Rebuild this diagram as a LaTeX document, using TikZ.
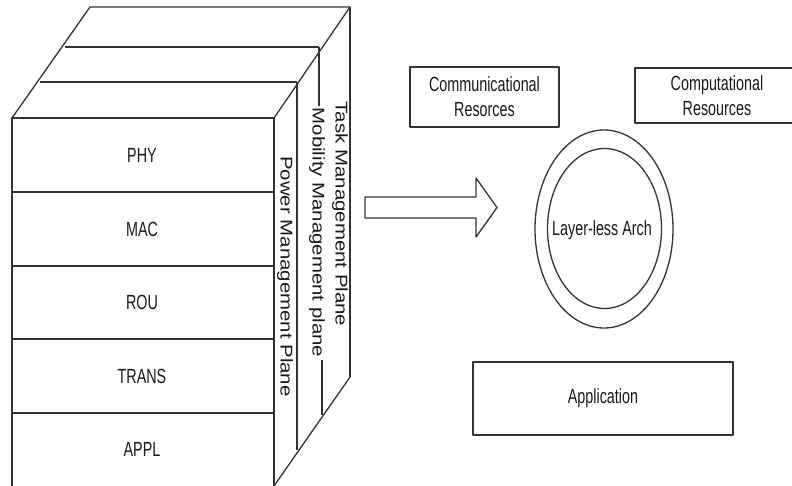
\documentclass[tikz,border=0pt]{standalone}
\usepackage{fontspec}
\usetikzlibrary{shapes.geometric}
\setmainfont{Liberation Sans}
\newfontfamily\narrowf[FakeStretch=0.7]{Liberation Sans}
\newfontfamily\widef[FakeStretch=1.2]{Liberation Sans}
\begin{document}
\begin{tikzpicture}[x=1pt,y=-1pt,
  ln/.style={draw=black!80,line width=1.3pt,line join=round},
  lbl/.style={font=\narrowf\fontsize{20.5}{25}\selectfont,text=black!90,align=center,inner sep=0pt},
  vlbl/.style={font=\widef\fontsize{17}{20}\selectfont,text=black!90,rotate=-90,inner sep=0pt},
  box/.style={ln,rectangle,lbl}]
\useasboundingbox (0,0) rectangle (792,486);
% --- stack (3D block) ---
\coordinate (f1) at (12,118);
\coordinate (f2) at (274,118);
\coordinate (f3) at (274,486);
\coordinate (f4) at (12,486);
\coordinate (a1) at (40,82);
\coordinate (a2) at (297,82);
\coordinate (b1) at (65,47);
\coordinate (b2) at (319,47);
\coordinate (c1) at (90,7);
\coordinate (c2) at (350,7);
\coordinate (pb) at (297,450);
\coordinate (mb) at (322,415);
\coordinate (tb) at (350,377);
\draw[ln] (f4) -- (f1) -- (f2) -- (f3);
\draw[ln] (f1) -- (c1) -- (c2) -- (f2);
\draw[ln] (a1) -- (a2);
\draw[ln] (b1) -- (b2);
\draw[ln] (f3) -- (tb);
\draw[ln] (a2) -- (pb);
\draw[ln] (c2) -- (tb);
\draw[ln] (b2) -- (319,106);
\draw[ln] (322,360) -- (mb);
\foreach \y in {192,266,339,413} \draw[ln] (12,\y) -- (274,\y);
\node[lbl] (phy) at (142,155) {PHY};
\node[lbl] (mac) at (142,229) {MAC};
\node[lbl] (rou) at (142,302.5) {ROU};
\node[lbl] (trans) at (142,376) {TRANS};
\node[lbl] (appl) at (142,449.5) {APPL};
\node[vlbl] (pwr) at (285,276.5) {Power Management Plane};
\node[vlbl] (mob) at (317,232.5) {Mobility Management plane};
\node[vlbl] (task) at (340,214) {Task Management Plane};
% --- block arrow ---
\draw[ln] (365,197) -- (476,197) -- (476,178) -- (497,207.5) -- (476,237) -- (476,218) -- (365,218) -- cycle;
% --- right side ---
\node[box,minimum width=149pt,minimum height=60pt] (comm) at (484.5,97) {Communicational\\Resorces};
\node[lbl,minimum height=55pt] (comp) at (717,95.5) {Computational\\Resources};
\draw[ln] (792,68) -- (635,68) -- (635,123) -- (792,123);
\node[ln,ellipse,inner sep=0pt,minimum width=138pt,minimum height=198pt] (outer) at (604,229) {};
\node[ln,ellipse,inner sep=0pt,minimum width=114pt,minimum height=160pt] (inner) at (604.5,228.5) {};
\node[lbl] (arch) at (602,230) {Layer-less Arch};
\node[box,minimum width=260pt,minimum height=73pt] (app) at (603,398.5) {Application};
\end{tikzpicture}
\end{document}
